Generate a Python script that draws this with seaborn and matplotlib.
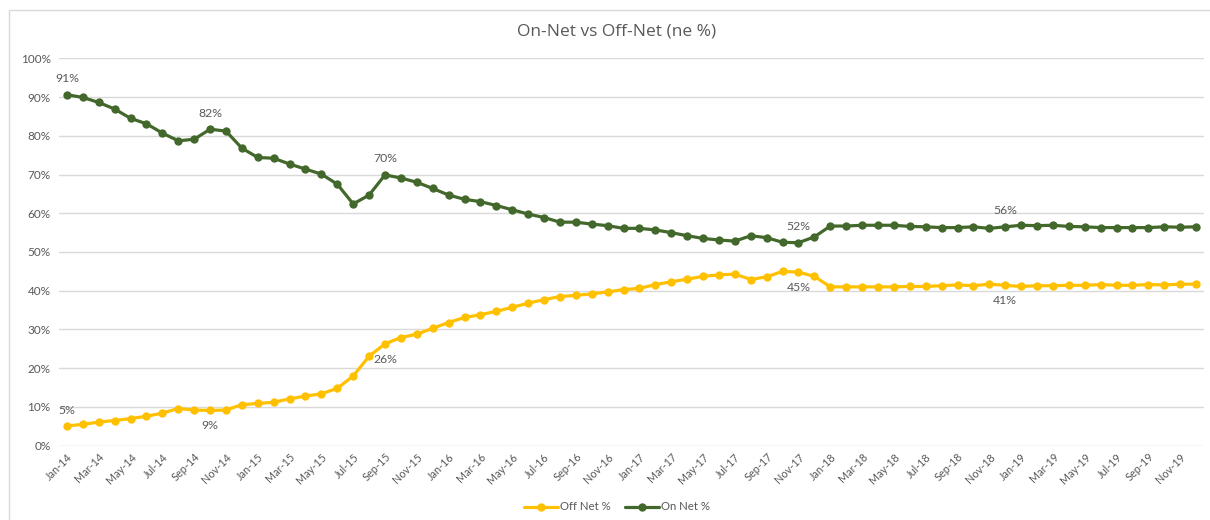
import matplotlib
matplotlib.use("Agg")
import matplotlib.pyplot as plt
import matplotlib.patches as mpatches
import seaborn as sns
import pandas as pd
import numpy as np

months = [f"{m}-{y}" for y in ["14", "15", "16", "17", "18", "19"]
          for m in ["Jan", "Feb", "Mar", "Apr", "May", "Jun",
                    "Jul", "Aug", "Sep", "Oct", "Nov", "Dec"]]

on_net = [90.6, 89.9, 88.6, 86.9, 84.5, 83.1, 80.7, 78.7, 79.1, 81.7, 81.2, 76.8,
          74.4, 74.2, 72.7, 71.4, 70.1, 67.5, 62.4, 64.7, 69.9, 69.1, 68.0, 66.4,
          64.7, 63.6, 63.0, 62.0, 60.9, 59.8, 58.9, 57.7, 57.7, 57.2, 56.8, 56.1,
          56.1, 55.7, 55.0, 54.2, 53.5, 53.1, 52.8, 54.2, 53.7, 52.5, 52.4, 53.9,
          56.7, 56.7, 56.9, 56.9, 56.9, 56.6, 56.5, 56.3, 56.3, 56.5, 56.1, 56.5,
          56.9, 56.8, 56.9, 56.6, 56.5, 56.3, 56.3, 56.3, 56.3, 56.5, 56.4, 56.5]

off_net = [5.1, 5.5, 6.1, 6.5, 7.0, 7.6, 8.4, 9.6, 9.2, 9.1, 9.2, 10.6,
           10.9, 11.2, 12.1, 12.8, 13.4, 14.8, 18.0, 23.1, 26.3, 27.9, 28.8, 30.3,
           31.8, 33.1, 33.8, 34.7, 35.7, 36.8, 37.7, 38.5, 38.8, 39.2, 39.7, 40.3,
           40.6, 41.6, 42.3, 43.0, 43.7, 44.1, 44.3, 42.9, 43.6, 45.0, 44.8, 43.7,
           41.0, 41.0, 41.0, 41.0, 41.0, 41.1, 41.1, 41.3, 41.5, 41.3, 41.7, 41.4,
           41.1, 41.3, 41.3, 41.4, 41.4, 41.6, 41.4, 41.4, 41.6, 41.5, 41.7, 41.7]

# months whose values carry data labels
labelled = ["Jan-14", "Oct-14", "Sep-15", "Nov-17", "Dec-18"]
off_label_above = {"Jan-14": True, "Oct-14": False, "Sep-15": False,
                   "Nov-17": False, "Dec-18": False}

series_names = ["Off Net %", "On Net %"]
colors = {"Off Net %": "#FFC000", "On Net %": "#43682B"}

idx = list(range(len(months)))
df = pd.DataFrame({
    "pos": idx * 2,
    "month": months * 2,
    "value": off_net + on_net,
    "series": ["Off Net %"] * len(months) + ["On Net %"] * len(months),
})

sns.set_theme(style="white")
plt.rcParams["font.family"] = ["Lato", "DejaVu Sans"]

fig = plt.figure(figsize=(12.1, 5.2), dpi=100)
ax = fig.add_axes([59 / 1210, 1 - 445.7 / 520, (1204 - 59) / 1210, (445.7 - 58.3) / 520])

sns.lineplot(data=df, x="pos", y="value", hue="series", hue_order=series_names,
             palette=colors, marker="o", markersize=6, markeredgewidth=0,
             linewidth=2.3, ax=ax, legend=True)

ax.set_xlim(-0.5, len(months) - 0.5)
ax.set_ylim(0, 100)
ax.set_yticks(np.arange(0, 101, 10))
ax.set_yticklabels([f"{v}%" for v in range(0, 101, 10)], fontsize=8.5, color="#595959")
ax.set_xticks(idx[::2])
ax.set_xticklabels(months[::2], rotation=45, ha="right", rotation_mode="anchor",
                   fontsize=7.8, color="#595959")
ax.tick_params(axis="both", length=0, pad=6)
ax.tick_params(axis="x", pad=4)
ax.grid(axis="y", color="#D9D9D9", linewidth=1)
ax.set_axisbelow(True)
for s in ax.spines.values():
    s.set_visible(False)
ax.set_xlabel("")
ax.set_ylabel("")

for m in labelled:
    i = months.index(m)
    ax.annotate(f"{on_net[i]:.0f}%", (i, on_net[i]), xytext=(0, 7.5),
                textcoords="offset points", ha="center", va="bottom",
                fontsize=8.8, color="#595959")
    if off_label_above[m]:
        ax.annotate(f"{off_net[i]:.0f}%", (i, off_net[i]), xytext=(0, 7.5),
                    textcoords="offset points", ha="center", va="bottom",
                    fontsize=8.8, color="#595959")
    else:
        ax.annotate(f"{off_net[i]:.0f}%", (i, off_net[i]), xytext=(0, -7),
                    textcoords="offset points", ha="center", va="top",
                    fontsize=8.8, color="#595959")

fig.text(617 / 1210, 1 - 32 / 520, "On-Net vs Off-Net (ne %)", ha="center",
         va="center", fontsize=12.5, color="#595959", family=["Open Sans", "DejaVu Sans"])

leg = ax.legend(loc="center", bbox_to_anchor=(617 / 1210, 1 - 507 / 520),
                bbox_transform=fig.transFigure, ncol=2, frameon=False,
                fontsize=8.2, handlelength=3, columnspacing=1.2, handletextpad=0.2)
for t in leg.get_texts():
    t.set_color("#595959")

fig.patches.append(mpatches.Rectangle((9 / 1210, -0.05), 1.1, 1.05 - 10 / 520,
                                      transform=fig.transFigure, fill=False,
                                      edgecolor="#D9D9D9", linewidth=1))

fig.savefig("out.png", dpi=100, facecolor="white")
